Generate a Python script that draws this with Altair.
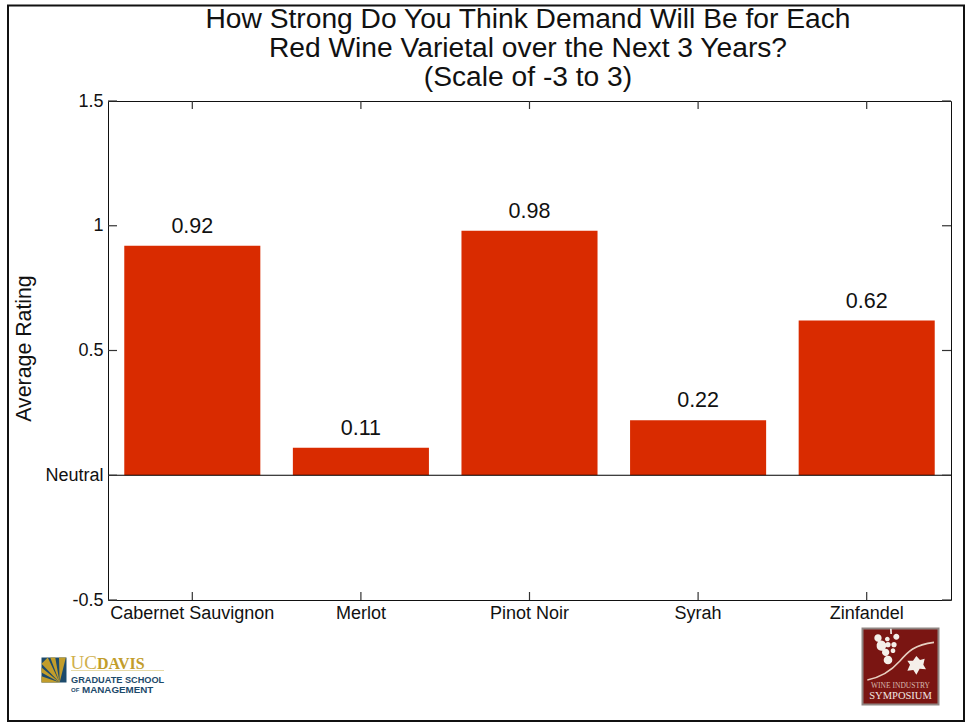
import altair as alt
import pandas as pd

# Survey results
varietals = ["Cabernet Sauvignon", "Merlot", "Pinot Noir", "Syrah", "Zinfandel"]
ratings = [0.92, 0.11, 0.98, 0.22, 0.62]
rating_ticks = [-0.5, 0, 0.5, 1, 1.5]
title_lines = [
    "How Strong Do You Think Demand Will Be for Each",
    "Red Wine Varietal over the Next 3 Years?",
    "(Scale of -3 to 3)",
]

FONT = "Liberation Sans"
SERIF = "Liberation Serif"
BAR_RED = "#d92b00"
NAVY = "#1d4a6b"
GOLD = "#c29d2b"
MAROON = "#7a1512"

W, H = 843, 499
LEFT, TOP = 108, 101


def px(x):
    return x - LEFT


def py(y):
    return y - TOP


bars_df = pd.DataFrame({"varietal": varietals, "rating": ratings})
ticks_df = pd.DataFrame({"tick": rating_ticks})
cats_df = pd.DataFrame({"varietal": varietals})
blank = alt.Data(values=[{"k": 0}])

x_enc = alt.X(
    "varietal:N",
    sort=varietals,
    scale=alt.Scale(paddingInner=0.193, paddingOuter=0.0965),
    axis=alt.Axis(
        title=None, labelAngle=0, domain=False, ticks=False, labelPadding=4,
        labelFontSize=18, labelFont=FONT, labelColor="#111", labelBaseline="top",
    ),
)
y_enc = alt.Y(
    "rating:Q",
    scale=alt.Scale(domain=[-0.5, 1.5], nice=False),
    axis=alt.Axis(
        title="Average Rating", values=rating_ticks, domain=False, ticks=False, grid=False,
        labelExpr="datum.value === 0 ? 'Neutral' : '' + datum.value",
        labelPadding=5, labelFontSize=18, labelFont=FONT, labelColor="#111",
        titleFont=FONT, titleFontSize=21.3, titleFontWeight="normal", titleColor="#111",
        titleX=px(24), titleY=py(348), titleBaseline="middle",
    ),
)

bars = alt.Chart(bars_df).mark_bar(color=BAR_RED).encode(x=x_enc, y=y_enc)
value_labels = alt.Chart(bars_df).mark_text(
    font=FONT, fontSize=21.5, dy=-19, color="#111"
).encode(x=alt.X("varietal:N", sort=varietals), y="rating:Q", text=alt.Text("rating:Q", format=".2f"))

zero_line = alt.Chart(alt.Data(values=[{"z": 0}])).mark_rule(color="#000", strokeWidth=1).encode(y="z:Q")

# Inward-pointing ticks on all four sides of the frame
tick_style = dict(color="#333", strokeWidth=1.2)
left_ticks = alt.Chart(ticks_df).mark_rule(**tick_style).encode(
    y="tick:Q", x=alt.value(0), x2=alt.value(9))
right_ticks = alt.Chart(ticks_df).mark_rule(**tick_style).encode(
    y="tick:Q", x=alt.value(W - 9), x2=alt.value(W))
bottom_ticks = alt.Chart(cats_df).mark_rule(**tick_style).encode(
    x=alt.X("varietal:N", sort=varietals), y=alt.value(H - 8), y2=alt.value(H))
top_ticks = alt.Chart(cats_df).mark_rule(**tick_style).encode(
    x=alt.X("varietal:N", sort=varietals), y=alt.value(0), y2=alt.value(8))

# Page border around the whole slide
page_border = alt.Chart(blank).mark_rect(
    fill="transparent", stroke="#111", strokeWidth=2
).encode(x=alt.value(px(8)), x2=alt.value(px(964)), y=alt.value(py(5.5)), y2=alt.value(py(721)))


def shape(path, cx, cy, half, fill, **kw):
    """Filled vector shape given in -1..1 coordinates, centred on a page position."""
    style = dict(filled=True, fill=fill, strokeWidth=0, opacity=1)
    style.update(kw)
    return alt.Chart(blank).mark_point(shape=path, size=(2 * half) ** 2, **style).encode(
        x=alt.value(px(cx)), y=alt.value(py(cy)))


def label(text, x, y, size, color, font=FONT, weight="normal", align="left"):
    return alt.Chart(blank).mark_text(
        text=text, font=font, fontSize=size, fontWeight=weight, color=color,
        align=align, baseline="alphabetic",
    ).encode(x=alt.value(px(x)), y=alt.value(py(y)))


def poly(points):
    return "M" + " L".join(f"{a:.3f},{b:.3f}" for a, b in points) + " Z"


SQUARE = poly([(-1, -1), (1, -1), (1, 1), (-1, 1)])

# Three-line heading, centred over the plot
heading = [
    label(line, 528, base, 28.2, "#111", align="center")
    for line, base in zip(title_lines, [27.5, 56.5, 86])
]

# University mark: navy square with a fan of gold rays
apex = (0.45, 1)
fan = [
    [apex, (-1, 1), (-1, 0.5)],
    [apex, (-1, 0.2), (-1, -0.2)],
    [apex, (-1, -0.5), (-0.5, -1)],
    [apex, (-0.3, -1), (0.1, -1)],
    [apex, (0.4, -1), (0.95, -1)],
]
CX, CY, HALF = 54, 670, 12.5
uni_logo = [
    shape(SQUARE, CX, CY, HALF, NAVY),
    shape(" ".join(poly(w) for w in fan), CX, CY, HALF, GOLD),
    label("UC", 70.5, 668.5, 19, "#d0b04d", font=SERIF),
    label("DAVIS", 97, 668.5, 16, GOLD, font=SERIF, weight="bold"),
    alt.Chart(blank).mark_rule(color="#e6d9a6", strokeWidth=1).encode(
        x=alt.value(px(71)), x2=alt.value(px(164)), y=alt.value(py(670.5))),
    label("GRADUATE SCHOOL", 71, 682.5, 9.2, NAVY, weight="bold"),
    label("OF", 71, 692, 6, NAVY, weight="bold"),
    label("MANAGEMENT", 82, 692.5, 9.8, NAVY, weight="bold"),
]

# Symposium emblem: maroon tile with grapes, vine and leaf
EX, EY, EH = 900.5, 666.5, 38


def ex(X):
    return (858 + X / 3 - EX) / EH


def ey(Y):
    return (624 + Y / 3 - EY) / EH


def circle(X, Y, R):
    r = R / 3 / EH
    a, b = ex(X), ey(Y)
    return (f"M{a - r:.3f},{b:.3f} A{r:.3f},{r:.3f} 0 1 0 {a + r:.3f},{b:.3f} "
            f"A{r:.3f},{r:.3f} 0 1 0 {a - r:.3f},{b:.3f} Z")


grape_layout = [(60, 42, 11), (88, 45, 7), (115, 38, 9), (70, 65, 14), (90, 62, 8),
                (108, 62, 8), (83, 85, 11), (105, 80, 7), (90, 108, 13)]
grapes_path = " ".join(circle(*g) for g in grape_layout)
stem_path = poly([(ex(96), ey(14)), (ex(101), ey(14)), (ex(102), ey(30)), (ex(97), ey(30))])
leaf_outline = [(175, 96), (186, 108), (200, 104), (196, 122), (204, 136), (185, 134),
                (175, 152), (166, 138), (148, 140), (156, 122), (148, 110), (165, 110)]
leaf_path = poly([(ex(a), ey(b)) for a, b in leaf_outline])
vine_path = (
    f"M{ex(28):.3f},{ey(168):.3f} "
    f"C{ex(70):.3f},{ey(160):.3f} {ex(100):.3f},{ey(140):.3f} {ex(125):.3f},{ey(112):.3f} "
    f"C{ex(150):.3f},{ey(82):.3f} {ex(170):.3f},{ey(62):.3f} {ex(228):.3f},{ey(55):.3f}"
)
emblem = [
    shape(SQUARE, EX, EY, EH, MAROON, stroke="#8f8582", strokeWidth=2),
    shape(grapes_path + " " + stem_path + " " + leaf_path, EX, EY, EH, "#f4efe9"),
    alt.Chart(blank).mark_point(
        shape=vine_path, size=(2 * EH) ** 2, filled=False, stroke="#e7cfc0", strokeWidth=1.6, opacity=1
    ).encode(x=alt.value(px(EX)), y=alt.value(py(EY))),
    label("WINE INDUSTRY", EX, 688, 7.5, "#d8b9ae", font=SERIF, align="center"),
    label("SYMPOSIUM", EX, 699, 10.5, "#f2e7e2", font=SERIF, align="center"),
]

chart = alt.layer(
    bars, zero_line, value_labels, left_ticks, right_ticks, bottom_ticks, top_ticks,
    page_border, *heading, *uni_logo, *emblem,
).properties(
    width=W,
    height=H,
    padding={"left": LEFT, "top": TOP, "right": 969 - LEFT - W, "bottom": 723 - TOP - H},
    autosize=alt.AutoSizeParams(type="none"),
    background="white",
).configure_view(stroke="#111", strokeWidth=1)

chart.save("out.html", embed_options={"renderer": "svg", "actions": False})
